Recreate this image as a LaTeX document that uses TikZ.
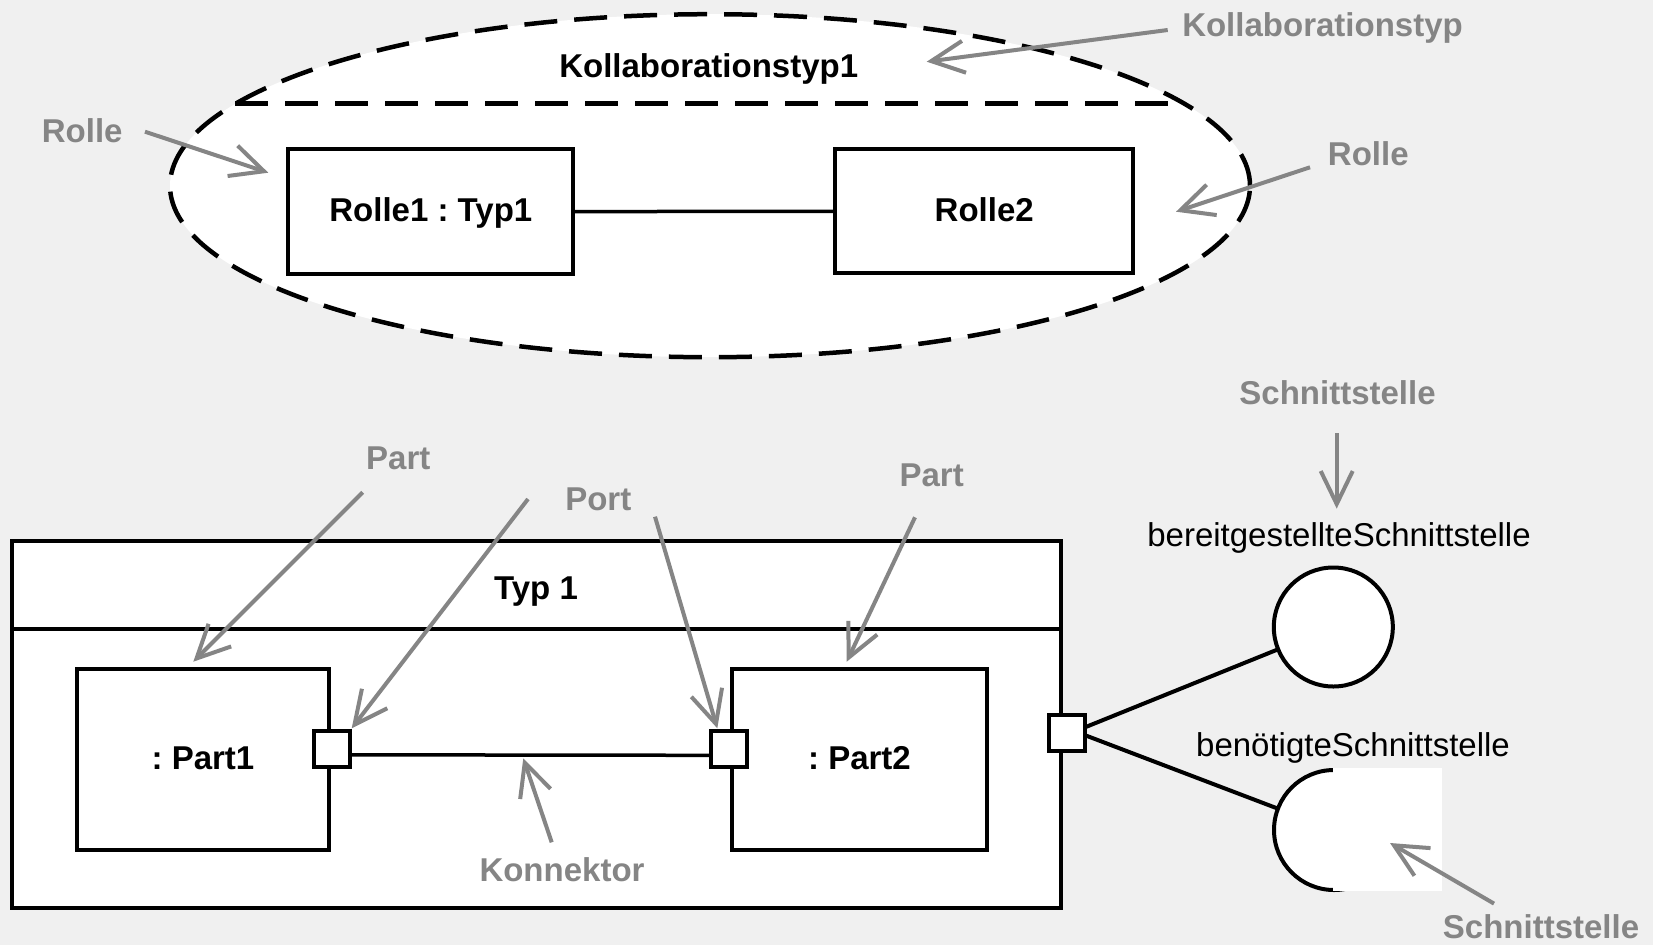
\documentclass[tikz,border=0pt]{standalone}
\usepackage{fontspec}
\setmainfont{Liberation Sans}
\usetikzlibrary{arrows.meta,shapes.geometric,calc}
\definecolor{bgc}{HTML}{F0F0F0}
\definecolor{note}{HTML}{858585}
\frenchspacing
\begin{document}
\begin{tikzpicture}[x=1pt,y=-1pt,
  every node/.style={inner sep=0pt,outer sep=0pt},
  bigfont/.style={font=\fontsize{33pt}{40pt}\selectfont\bfseries},
  plainfont/.style={font=\fontsize{33pt}{40pt}\selectfont},
  boxstyle/.style={rectangle,draw=black,fill=white,line width=4pt,bigfont,text height=24pt,text depth=4pt},
  portbox/.style={rectangle,draw=black,fill=white,line width=4pt,minimum size=36pt},
  iface/.style={circle,draw=black,fill=white,line width=4pt},
  collabstyle/.style={ellipse,draw=black,fill=white,line width=4.5pt,dash pattern=on 33pt off 17pt},
  notelbl/.style={bigfont,text=note,anchor=base},
  titlelbl/.style={bigfont,text=black,anchor=base},
  namelbl/.style={plainfont,text=black,anchor=base},
  conn/.style={draw=black,line width=4pt},
  notearrow/.style={draw=note,line width=4pt,-{Straight Barb[length=33pt,width=32pt]}}
]
\useasboundingbox (0,0) rectangle (1653,945);
\fill[bgc] (0,0) rectangle (1653,945);

% ---------- collaboration ----------
\node[collabstyle,minimum width=1080pt,minimum height=343pt] (collab) at (710,185.7) {};
\coordinate (dashL) at (235,103.3);
\coordinate (dashR) at (1171.7,103.3);
\draw[black,line width=4.5pt,dash pattern=on 33pt off 17pt] (dashL) -- (dashR);
\node[titlelbl] (collabname) at (708.7,77.3) {Kollaborationstyp1};

\node[boxstyle,minimum width=285pt,minimum height=125.3pt] (r1) at (430.8,211.7) {Rolle1 : Typ1};
\node[boxstyle,minimum width=298.3pt,minimum height=124.3pt] (r2) at (984.2,211.2) {Rolle2};
\draw[conn,line width=3.5pt] (r1) -- (r2);

% ---------- structured class ----------
\node[rectangle,draw=black,fill=white,line width=4pt,minimum width=1048.8pt,minimum height=367.3pt] (typ) at (536.1,724.65) {};
\draw[conn] ($(typ.north west)+(0,88.3)$) -- ($(typ.north east)+(0,88.3)$);
\node[titlelbl] (typname) at (536,599.3) {Typ 1};

\node[boxstyle,minimum width=252.6pt,minimum height=181.3pt] (part1) at (203,759.3) {: Part1};
\node[boxstyle,minimum width=254.4pt,minimum height=181.3pt] (part2) at (859.5,759.3) {: Part2};
\node[portbox] (p1) at (331.7,748.8) {};
\node[portbox] (p2) at (729,749.3) {};
\draw[conn,line width=3.5pt] ([yshift=-6pt]p1.east) -- ([yshift=-6pt]p2.west);

\node[portbox] (p3) at (1066.5,733) {};

% ---------- interfaces ----------
\node[iface,minimum size=119pt] (prov) at (1333.3,627) {};
\node[iface,minimum size=120pt] (req) at (1334,830) {};
\fill[white] (1333,768) rectangle (1442,891);
\draw[conn] ([yshift=5.5pt]p3.east) -- (prov);
\draw[conn] ([yshift=-2pt]p3.east) -- (req);
\node[namelbl] (provname) at (1339,546.8) {bereitgestellteSchnittstelle};
\node[namelbl] (reqname) at (1353,756.9) {benötigteSchnittstelle};

% ---------- annotations ----------
\node[notelbl] (nRolleL) at (82.2,142.7) {Rolle};
\node[notelbl] (nKollab) at (1322.5,36) {Kollaborationstyp};
\node[notelbl] (nRolleR) at (1368.3,165.7) {Rolle};
\node[notelbl] (nPartL) at (398.3,469.3) {Part};
\node[notelbl] (nPort) at (598.3,510.7) {Port};
\node[notelbl] (nPartR) at (931.7,486) {Part};
\node[notelbl] (nKonn) at (562,881.7) {Konnektor};
\node[notelbl] (nSchnittT) at (1337.5,404.8) {Schnittstelle};
\node[notelbl] (nSchnittB) at (1541,938) {Schnittstelle};

\coordinate (aRolleLs) at (145,131.7);    \coordinate (aRolleLt) at (268.3,172.7);
\coordinate (aKollabs) at (1167.7,30);    \coordinate (aKollabt) at (926.7,61.7);
\coordinate (aRolleRs) at (1310,167.3);   \coordinate (aRolleRt) at (1176,211.7);
\coordinate (aPartLs) at (362.7,492.3);   \coordinate (aPartLt) at (193.3,661.7);
\coordinate (aPortLs) at (528,499);       \coordinate (aPortLt) at (351.7,728.3);
\coordinate (aPortRs) at (655,516.7);     \coordinate (aPortRt) at (717.3,728.3);
\coordinate (aPartRs) at (915,517.3);     \coordinate (aPartRt) at (846.7,661.7);
\coordinate (aKonns) at (551.7,842.3);    \coordinate (aKonnt) at (523.3,758.3);
\coordinate (aSchTs) at (1336.7,433);     \coordinate (aSchTt) at (1336.7,508.6);
\coordinate (aSchBs) at (1494,903.6);     \coordinate (aSchBt) at (1390,843);

\draw[notearrow] (aRolleLs) -- (aRolleLt);
\draw[notearrow] (aKollabs) -- (aKollabt);
\draw[notearrow] (aRolleRs) -- (aRolleRt);
\draw[notearrow] (aPartLs) -- (aPartLt);
\draw[notearrow] (aPortLs) -- (aPortLt);
\draw[notearrow] (aPortRs) -- (aPortRt);
\draw[notearrow] (aPartRs) -- (aPartRt);
\draw[notearrow] (aKonns) -- (aKonnt);
\draw[notearrow] (aSchTs) -- (aSchTt);
\draw[notearrow] (aSchBs) -- (aSchBt);
\end{tikzpicture}
\end{document}
